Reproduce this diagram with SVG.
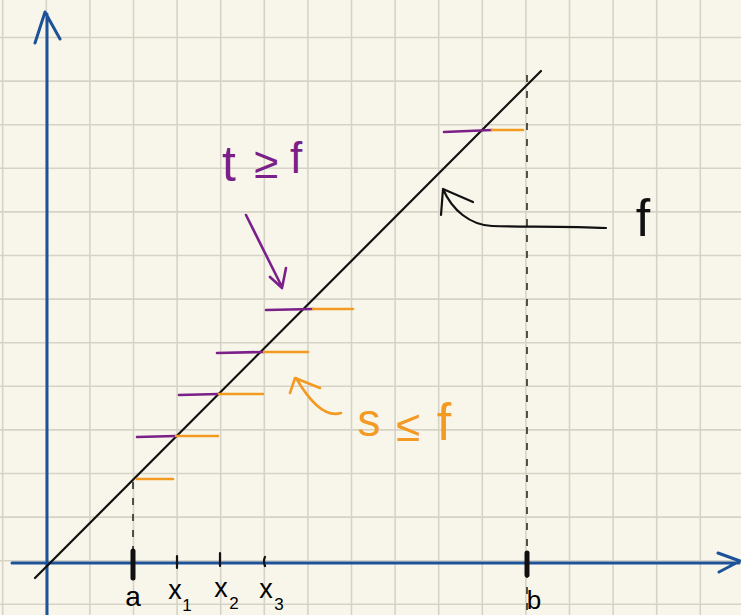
<svg xmlns="http://www.w3.org/2000/svg" width="741" height="615" viewBox="0 0 741 615">
<defs>
<style>
.grid{stroke:#d6d3c6;stroke-width:1.6;fill:none}
.axis{stroke:#1d5299;stroke-width:3;fill:none;stroke-linecap:round;stroke-linejoin:round}
.ink{stroke:#111;stroke-width:2.2;fill:none;stroke-linecap:round;stroke-linejoin:round}
.dash{stroke:#111;stroke-width:1.4;fill:none;stroke-dasharray:7 9}
.pur{stroke:#7a2088;stroke-width:2.6;fill:none;stroke-linecap:round;stroke-linejoin:round}
.org{stroke:#f39a22;stroke-width:2.6;fill:none;stroke-linecap:round;stroke-linejoin:round}
.t{font-family:"Liberation Sans","DejaVu Sans",sans-serif;text-anchor:middle}
</style>
</defs>
<rect width="741" height="615" fill="#f8f6ea"/>
<g id="grid" class="grid">
<path d="M2.7 0V615M46.3 0V615M89.9 0V615M133.5 0V615M177.1 0V615M220.7 0V615M264.3 0V615M307.9 0V615M351.5 0V615M395.1 0V615M438.7 0V615M482.3 0V615M525.9 0V615M569.5 0V615M613.1 0V615M656.7 0V615M700.3 0V615"/>
<path d="M0 37.5H741M0 81.1H741M0 124.7H741M0 168.3H741M0 211.9H741M0 255.5H741M0 299.1H741M0 342.7H741M0 386.3H741M0 429.9H741M0 473.5H741M0 517.1H741M0 560.7H741M0 604.3H741"/>
</g>
<g id="axes">
<path class="axis" d="M47 615V14M35 43L45 12L60 39"/>
<path class="axis" d="M12 563H739M718 553L740 561L719 572"/>
</g>
<g id="connectors">
<path class="ink" d="M35 578L541 71"/>
<path class="dash" d="M133 482V552"/>
<path class="dash" d="M527 75V615"/>
<path class="pur" d="M246 215L282 287M270 277L282 288L286 268"/>
<path class="org" d="M341 413C325 418 310 402 296 378M290 393L295 378L320 388"/>
<path class="ink" d="M606 228C570 226 520 227 492 226C470 225 452 210 443 189M441 215L443 189L473 202"/>
</g>
<g id="steps">
<path class="org" d="M137 479H173"/>
<path class="pur" d="M137 437L176 436"/><path class="org" d="M176 436H218"/>
<path class="pur" d="M179 395L219 394"/><path class="org" d="M219 394H263"/>
<path class="pur" d="M217 353L264 352"/><path class="org" d="M264 352H308"/>
<path class="pur" d="M266 310L313 309"/><path class="org" d="M313 309H353"/>
<path class="pur" d="M444 132L492 130"/><path class="org" d="M492 130H523"/>
</g>
<g id="ticks">
<path d="M133 551V578" stroke="#111" stroke-width="5" stroke-linecap="round"/>
<path d="M527 553V575" stroke="#111" stroke-width="5" stroke-linecap="round"/>
<path class="ink" d="M177 556V568M220 553V566M265 557Q263 561 265 566"/>
</g>
<g id="labels">
<text class="t" x="133" y="606" font-size="28">a</text>
<text class="t" x="175" y="599" font-size="27">x</text>
<text class="t" x="187" y="611" font-size="17">1</text>
<text class="t" x="221" y="597" font-size="27">x</text>
<text class="t" x="234" y="609" font-size="17">2</text>
<text class="t" x="266" y="598" font-size="27">x</text>
<text class="t" x="279" y="610" font-size="17">3</text>
<text class="t" x="534" y="609" font-size="26">b</text>
</g>
<g id="label-t" fill="#7a2088">
<text class="t" x="229" y="181" font-size="50">t</text>
<text class="t" x="266" y="178" font-size="44">≥</text>
<text class="t" x="296" y="173" font-size="44">f</text>
</g>
<g id="label-s" fill="#f39a22">
<text class="t" x="369" y="436" font-size="46">s</text>
<text class="t" x="408" y="441" font-size="44">≤</text>
<text class="t" x="444" y="440" font-size="52">f</text>
</g>
<g id="label-f" fill="#111">
<text class="t" x="643" y="236" font-size="52">f</text>
</g>
</svg>
